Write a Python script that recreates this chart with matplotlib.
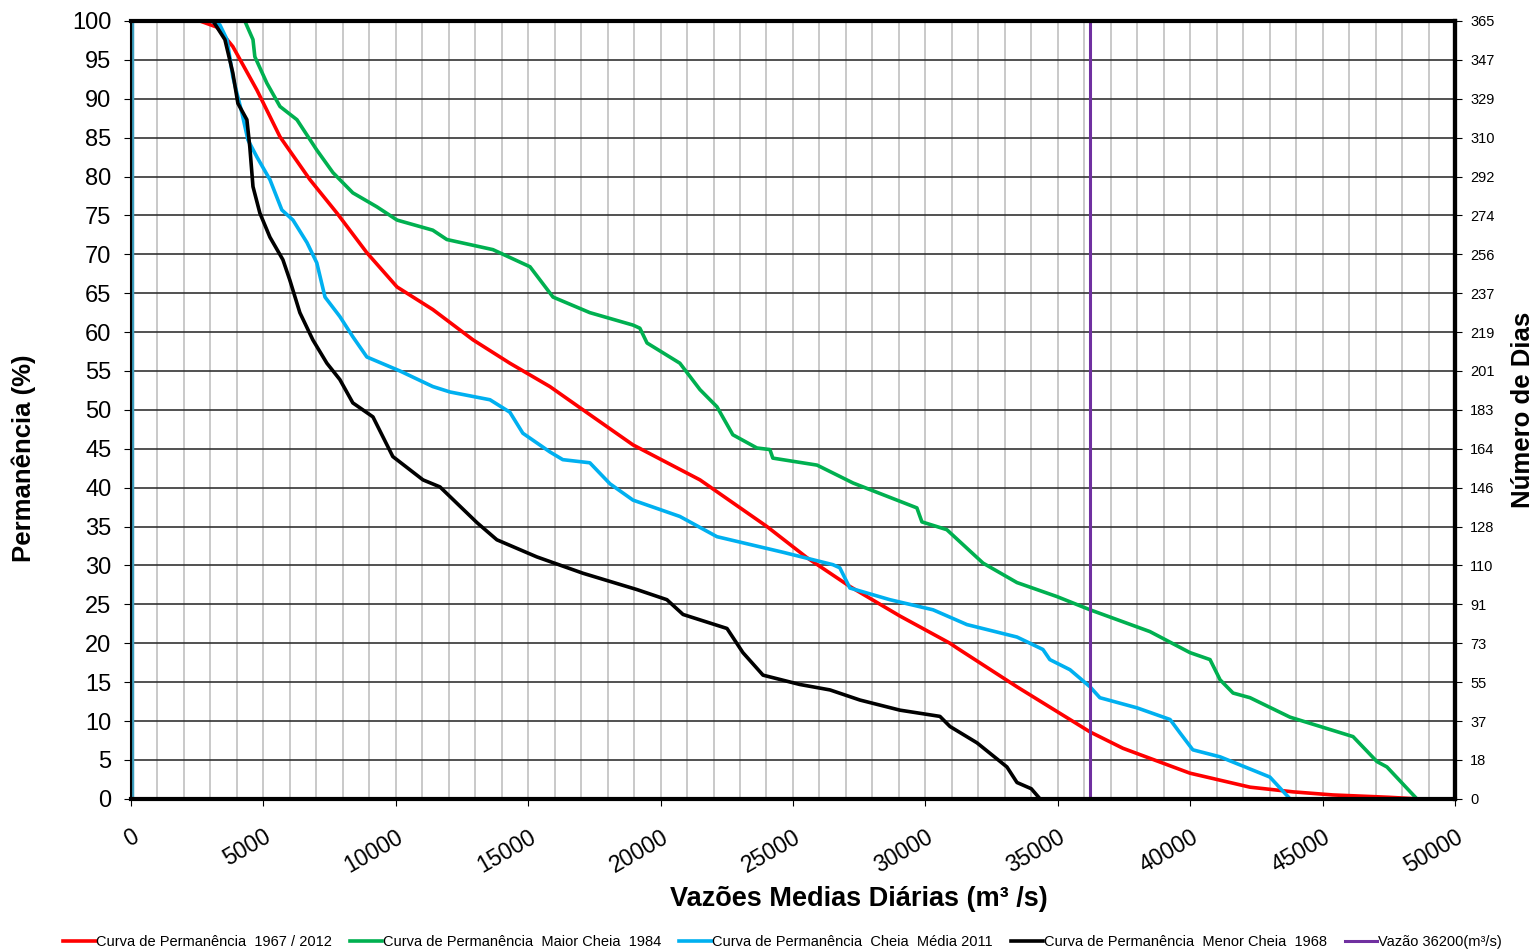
import matplotlib
matplotlib.use("Agg")
import matplotlib.pyplot as plt
from matplotlib.ticker import MultipleLocator

plt.rcParams['font.family'] = ['Liberation Sans', 'DejaVu Sans']

# Curva de Permanência 1967 / 2012
red_x = [2600, 3250, 3850, 4760, 5630, 6760, 7780, 8910, 10050, 11400, 12920,
         14310, 15820, 17450, 18960, 21490, 24020, 25530, 27150, 29040, 30930,
         31190, 33460, 36220, 37460, 39990, 42260, 43880, 45390, 47500, 48560]
red_y = [100, 99.2, 96.7, 91.1, 85.1, 79.6, 75.3, 70.2, 65.8, 62.9, 59.0,
         56.0, 53.0, 49.1, 45.5, 41.0, 35.0, 31.0, 27.3, 23.5, 20.0,
         19.4, 14.4, 8.6, 6.5, 3.3, 1.5, 0.9, 0.5, 0.2, 0]

# Curva de Permanência Maior Cheia 1984
green_x = [4300, 4610, 4680, 5135, 5630, 6270, 7020, 7630, 8380, 9290, 10050,
           11400, 11930, 13670, 15070, 15940, 17330, 18960, 19220, 19490, 20730,
           21490, 22130, 22730, 23640, 24130, 24240, 25910, 27270, 29680, 29870,
           30810, 32180, 33460, 34970, 36220, 38480, 39990, 40750, 41130, 41620,
           42260, 43770, 46150, 47050, 47430, 48560]
green_y = [100, 97.6, 95.4, 92.0, 89.0, 87.3, 83.4, 80.5, 77.9, 76.1, 74.4,
           73.1, 71.9, 70.6, 68.4, 64.5, 62.5, 60.9, 60.5, 58.6, 56.0,
           52.6, 50.4, 46.8, 45.1, 44.9, 43.8, 42.9, 40.6, 37.4, 35.6,
           34.6, 30.3, 27.8, 26.0, 24.3, 21.5, 18.8, 17.9, 15.3, 13.6,
           13.0, 10.5, 8.0, 4.8, 4.1, 0]

# Curva de Permanência Cheia Média 2011
blue_x = [3000, 3360, 3630, 3850, 4190, 4420, 4760, 5250, 5700, 6120, 6650, 7020,
          7330, 7890, 8380, 8910, 10160, 11400, 12050, 13560, 14310, 14800, 15820,
          16310, 17330, 18090, 18960, 20730, 22130, 24620, 26510, 26770, 27150,
          28660, 30290, 31570, 33460, 34440, 34700, 35460, 36220, 36590, 37990,
          39240, 39610, 40100, 41130, 43010, 43770]
blue_y = [100, 99.5, 97.6, 92.8, 88.2, 84.7, 82.5, 79.6, 75.7, 74.4, 71.5, 68.9,
          64.5, 62.0, 59.4, 56.8, 55.0, 53.0, 52.3, 51.3, 49.7, 47.0, 44.6,
          43.6, 43.2, 40.5, 38.4, 36.3, 33.7, 31.7, 30.1, 29.7, 27.1,
          25.6, 24.3, 22.4, 20.8, 19.2, 17.9, 16.6, 14.4, 13.0, 11.7,
          10.2, 8.5, 6.3, 5.4, 2.8, 0]

# Curva de Permanência Menor Cheia 1968
black_x = [3100, 3550, 3850, 4040, 4380, 4490, 4610, 4870, 5250, 5740, 6000, 6380,
           6870, 7400, 7890, 8380, 9140, 9890, 11030, 11670, 13070, 13820, 15330,
           17070, 19110, 20240, 20850, 22510, 23110, 23870, 25260, 26400, 27530,
           29040, 30550, 30930, 31950, 33080, 33460, 34000, 34330]
black_y = [100, 97.6, 93.3, 89.4, 87.3, 83.8, 78.7, 75.3, 72.2, 69.3, 66.7, 62.5,
           59.0, 56.0, 53.9, 50.9, 49.1, 44.0, 41.0, 40.1, 35.5, 33.3, 31.1,
           29.0, 26.9, 25.6, 23.7, 21.9, 18.8, 15.9, 14.7, 14.0, 12.7,
           11.4, 10.6, 9.3, 7.2, 4.1, 2.1, 1.3, 0]

vazao_ref = 36200
edge_x = 60  # linha vertical junto ao zero

y_ticks = list(range(0, 101, 5))
x_ticks = list(range(0, 50001, 5000))

fig = plt.figure(figsize=(15.4, 9.51), dpi=100)
ax = fig.add_axes([0.085, 0.16, 0.8598, 0.818])

ax.xaxis.set_minor_locator(MultipleLocator(1000))
ax.grid(which='minor', axis='x', color='#c0c0c0', lw=1.2)
ax.grid(which='major', axis='x', color='#c0c0c0', lw=1.2)
ax.grid(which='major', axis='y', color='#333333', lw=1.2)
ax.set_axisbelow(True)

ax.plot([edge_x, edge_x], [0, 100], color='#3d9fc0', lw=2.5)
l1, = ax.plot(red_x, red_y, color='#ff0000', lw=2.6, label='Curva de Permanência  1967 / 2012')
l2, = ax.plot(green_x, green_y, color='#00b050', lw=2.6, label='Curva de Permanência  Maior Cheia  1984')
l3, = ax.plot(blue_x, blue_y, color='#00b0f0', lw=2.6, label='Curva de Permanência  Cheia  Média 2011')
l4, = ax.plot(black_x, black_y, color='#000000', lw=2.6, label='Curva de Permanência  Menor Cheia  1968')
l5 = ax.axvline(vazao_ref, color='#7030a0', lw=2.2, label='Vazão 36200(m³/s)')

ax.set_xlim(0, 50000)
ax.set_ylim(0, 100)
ax.set_yticks(y_ticks)
ax.set_xticks(x_ticks)
ax.set_xticklabels([str(v) for v in x_ticks], rotation=30, ha='right',
                   rotation_mode='anchor', fontsize=16.5)
ax.tick_params(axis='y', labelsize=17, length=5, pad=9)
ax.tick_params(axis='x', length=5, pad=14)
ax.tick_params(which='minor', length=0)

for side in ['top', 'bottom', 'right']:
    ax.spines[side].set_linewidth(3)
ax.spines['left'].set_linewidth(1.5)

ax.set_ylabel('Permanência (%)', fontsize=18.5, fontweight='bold')
ax.yaxis.set_label_coords(-0.0718, 0.438)
ax.set_xlabel('Vazões Medias Diárias (m³ /s)', fontsize=19.5, fontweight='bold')
ax.xaxis.set_label_coords(0.55, -0.112)

ax2 = ax.twinx()
ax2.set_ylim(0, 100)
ax2.set_yticks(y_ticks)
ax2.set_yticklabels([str(int(v * 365 / 100 + 0.5)) for v in y_ticks], fontsize=10.5)
ax2.tick_params(axis='y', length=5, pad=6)
ax2.spines['right'].set_linewidth(3)
ax2.set_ylabel('Número de Dias', fontsize=18.5, fontweight='bold', labelpad=12)

fig.legend(handles=[l1, l2, l3, l4, l5], loc='lower center', bbox_to_anchor=(0.508, -0.012),
           ncol=5, frameon=False, fontsize=10.5, handlelength=2.25, handletextpad=0.05,
           columnspacing=1.2)

fig.savefig('out.png', dpi=100)
